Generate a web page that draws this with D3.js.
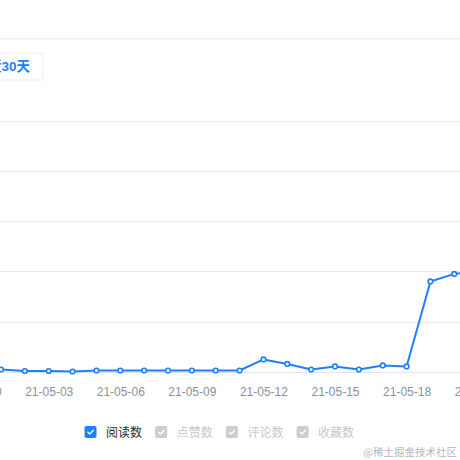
<!DOCTYPE html>
<html>
<head>
<meta charset="utf-8">
<script src="https://cdn.jsdelivr.net/npm/d3@7/dist/d3.min.js"></script>
<style>
  html, body { margin: 0; padding: 0; background: #fff; }
  svg { display: block; font-family: "Liberation Sans", Arial, "Noto Sans CJK SC", sans-serif; }
</style>
</head>
<body>
<svg id="chart" width="460" height="460"></svg>
<script>
// Daily reads, last 30 days (window shows 05-01 .. 05-21)
const dates = ["2021-05-01","2021-05-02","2021-05-03","2021-05-04","2021-05-05","2021-05-06","2021-05-07",
  "2021-05-08","2021-05-09","2021-05-10","2021-05-11","2021-05-12","2021-05-13","2021-05-14",
  "2021-05-15","2021-05-16","2021-05-17","2021-05-18","2021-05-19","2021-05-20","2021-05-21"];
const reads = [5, 2, 2, 1, 3, 3, 3, 3, 3, 3, 3, 25, 16, 5, 11, 5, 13, 11, 180, 195, 200];
const tickDates = ["2021-04-30","2021-05-03","2021-05-06","2021-05-09","2021-05-12","2021-05-15","2021-05-18","2021-05-21"];
const yTicks = [0, 100, 200, 300, 400, 500];
const legendItems = ["阅读数", "点赞数", "评论数", "收藏数"];
const legendActive = [true, false, false, false];
const rangeLabel = "近30天";
const watermark = "@稀土掘金技术社区";

const parse = d3.utcParse("%Y-%m-%d");
const fmt = d3.utcFormat("%y-%m-%d");
const data = dates.map((d, i) => ({ date: parse(d), value: reads[i] }));

const svg = d3.select("#chart");
const blue = "#1e80ff";

// top divider
svg.append("rect").attr("x", 0).attr("y", 38).attr("width", 460).attr("height", 1.5).attr("fill", "#f0f1f3");

// range button
const btn = svg.append("g");
btn.append("rect").attr("x", -32).attr("y", 53).attr("width", 75).attr("height", 27)
  .attr("fill", "#fff").attr("stroke", "#f2f3f5").attr("stroke-width", 1.5);
btn.append("text").attr("x", -12).attr("y", 71).attr("font-size", 13.5).attr("font-weight", "bold")
  .attr("fill", blue).text(rangeLabel);

// scales
const x = d3.scaleUtc()
  .domain([parse("2021-05-01"), parse("2021-05-20")])
  .range([1, 454.3]);
const y = d3.scaleLinear().domain([0, 500]).range([372, 120.5]);

// grid
svg.append("g").selectAll("line").data(yTicks.slice(1)).join("line")
  .attr("x1", 0).attr("x2", 460)
  .attr("y1", d => Math.round(y(d)) + 0.5).attr("y2", d => Math.round(y(d)) + 0.5)
  .attr("stroke", "#e9eaec").attr("stroke-width", 1);

// x axis
const xAxis = svg.append("g").attr("transform", `translate(0,${Math.round(y(0)) + 0.5})`)
  .call(d3.axisBottom(x).tickValues(tickDates.map(parse)).tickFormat(fmt).tickSize(0).tickPadding(15));
xAxis.select(".domain").attr("stroke", "#e0e6f1").attr("d", "M-10,0H470");
xAxis.selectAll("text").attr("font-size", 12).attr("fill", "#8a919f")
  .attr("font-family", "'Liberation Sans', Arial, sans-serif");

// line
const line = d3.line().x(d => x(d.date)).y(d => y(d.value));
svg.append("path").datum(data).attr("d", line)
  .attr("fill", "none").attr("stroke", blue).attr("stroke-width", 2).attr("stroke-linejoin", "round");
svg.append("g").selectAll("circle").data(data).join("circle")
  .attr("cx", d => x(d.date)).attr("cy", d => y(d.value)).attr("r", 2.3)
  .attr("fill", "#fff").attr("stroke", blue).attr("stroke-width", 1.6);

// legend
const legend = svg.append("g").attr("transform", "translate(84.5,426)");
const item = legend.selectAll("g").data(legendItems).join("g")
  .attr("transform", (d, i) => `translate(${i * 70.7},0)`);
item.append("rect").attr("width", 12).attr("height", 12).attr("rx", 2)
  .attr("fill", (d, i) => legendActive[i] ? blue : "#c9cdd4");
item.append("path").attr("d", "M3.4,6.2L5.3,8.1L8.8,4.2")
  .attr("fill", "none").attr("stroke", "#fff").attr("stroke-width", 1.4)
  .attr("stroke-linecap", "round").attr("stroke-linejoin", "round");
item.append("text").attr("x", 21.5).attr("y", 10.5).attr("font-size", 12)
  .attr("font-family", "'Noto Sans CJK SC', sans-serif")
  .attr("fill", (d, i) => legendActive[i] ? "#252933" : "#c2c8d1").text(d => d);

// watermark
svg.append("text").attr("x", 457).attr("y", 456).attr("text-anchor", "end")
  .attr("font-size", 10.5).attr("font-family", "'Noto Sans CJK SC', sans-serif")
  .attr("fill", "#b4b8bf").text(watermark);
</script>
</body>
</html>
